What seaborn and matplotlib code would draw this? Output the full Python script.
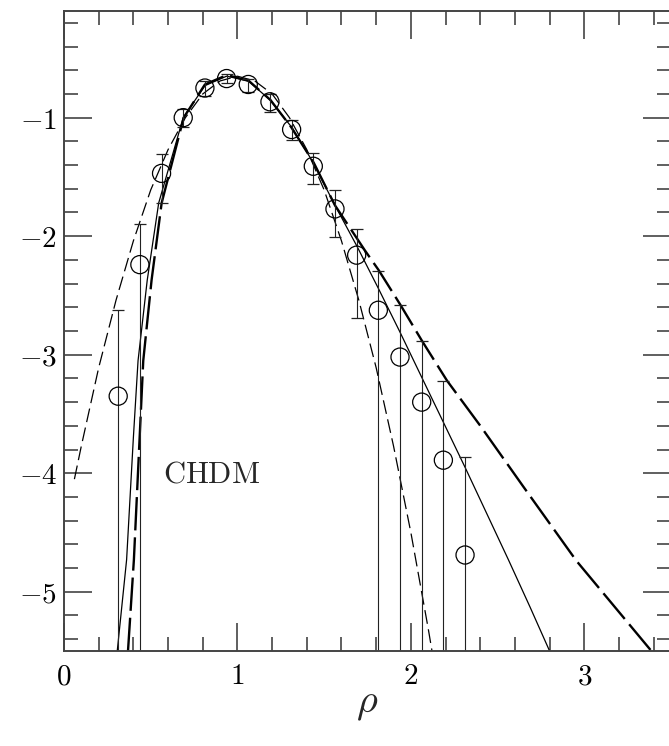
import numpy as np
import pandas as pd
import matplotlib
matplotlib.use("Agg")
import matplotlib.pyplot as plt
import seaborn as sns
from matplotlib.ticker import MultipleLocator

# ---- data ----
rho_pts = [0.3125, 0.4375, 0.5625, 0.6875, 0.8125, 0.9375, 1.0625, 1.1875, 1.3125,
           1.4375, 1.5625, 1.6875, 1.8125, 1.9375, 2.0625, 2.1875, 2.3125]
logp_pts = [-3.35, -2.24, -1.47, -1.00, -0.75, -0.67, -0.72, -0.866, -1.10,
            -1.41, -1.77, -2.16, -2.625, -3.02, -3.40, -3.89, -4.69]
err_hi = [-2.62, -1.90, -1.31, -0.93, -0.69, -0.63, -0.67, -0.80, -1.02,
          -1.30, -1.61, -1.94, -2.29, -2.58, -2.885, -3.22, -3.865]
err_lo = [-10.0, -10.0, -1.72, -1.08, -0.82, -0.71, -0.78, -0.95, -1.19,
          -1.56, -2.01, -2.69, -10.0, -10.0, -10.0, -10.0, -10.0]

# short-dashed curve
sd_x = [0.06, 0.1, 0.2, 0.3, 0.4, 0.5, 0.6, 0.7, 0.8, 0.9, 1.0, 1.1, 1.2, 1.3,
        1.4, 1.5, 1.6, 1.7, 1.8, 1.9, 2.0, 2.1, 2.13]
sd_y = [-4.05, -3.77, -3.11, -2.54, -2.04, -1.61, -1.27, -1.00, -0.80, -0.69, -0.65,
        -0.69, -0.80, -1.00, -1.27, -1.61, -2.04, -2.54, -3.11, -3.77, -4.50, -5.31, -5.57]

# thin solid curve
so_x = [0.307, 0.361, 0.40, 0.427, 0.48, 0.546, 0.6875, 0.8125, 0.9375, 1.0625,
        1.1875, 1.3125, 1.4375, 1.5625, 1.6875, 1.8125, 1.9375, 2.0625, 2.1875,
        2.3125, 2.4375, 2.5625, 2.6875, 2.80]
so_y = [-5.5, -4.73, -3.70, -3.05, -2.37, -1.72, -1.00, -0.73, -0.65, -0.69,
        -0.85, -1.08, -1.38, -1.74, -2.08, -2.44, -2.81, -3.19, -3.57,
        -3.95, -4.34, -4.73, -5.13, -5.50]

# long-dashed curve
ld_x = [0.369, 0.403, 0.457, 0.505, 0.563, 0.69, 0.8125, 0.94, 1.066, 1.19, 1.31,
        1.44, 1.5625, 1.735, 1.816, 1.94, 2.065, 2.209, 2.398, 2.647, 2.955, 3.387]
ld_y = [-5.5, -4.73, -3.05, -2.37, -1.72, -1.00, -0.72, -0.64, -0.69, -0.85, -1.08,
        -1.38, -1.74, -2.12, -2.29, -2.58, -2.885, -3.22, -3.595, -4.11, -4.74, -5.5]

x_ticks = [0, 1, 2, 3]
y_ticks = [-5, -4, -3, -2, -1]

# ---- styling ----
sns.set_theme(style="ticks")
plt.rcParams["font.family"] = ["DejaVu Serif"]
plt.rcParams["mathtext.fontset"] = "cm"
plt.rcParams["lines.scale_dashes"] = False

fig = plt.figure(figsize=(6.69, 7.46), dpi=100)
ax = fig.add_axes([64 / 669, 1 - 651 / 746, (671 - 64) / 669, (651 - 11) / 746])

pts = pd.DataFrame({"rho": rho_pts, "logp": logp_pts})
sd = pd.DataFrame({"rho": sd_x, "logp": sd_y})
so = pd.DataFrame({"rho": so_x, "logp": so_y})
ld = pd.DataFrame({"rho": ld_x, "logp": ld_y})

sns.lineplot(data=sd, x="rho", y="logp", ax=ax, color="black", lw=0.9,
             estimator=None, sort=False, dashes=False, linestyle=(0, (10, 4)))
sns.lineplot(data=so, x="rho", y="logp", ax=ax, color="black", lw=0.9,
             estimator=None, sort=False)
sns.lineplot(data=ld, x="rho", y="logp", ax=ax, color="black", lw=1.7,
             estimator=None, sort=False, linestyle=(0, (24, 5)))

yerr = [np.array(logp_pts) - np.array(err_lo), np.array(err_hi) - np.array(logp_pts)]
ax.errorbar(rho_pts, logp_pts, yerr=yerr, fmt="none", ecolor="#222222",
            elinewidth=0.8, capsize=4.3, capthick=0.9)
sns.scatterplot(data=pts, x="rho", y="logp", ax=ax, marker="o", s=170,
                facecolor="none", edgecolor="black", linewidth=0.9, zorder=5)

ax.set_xlim(0, 3.5)
ax.set_ylim(-5.5, -0.1)
ax.xaxis.set_major_locator(MultipleLocator(1))
ax.xaxis.set_minor_locator(MultipleLocator(0.2))
ax.yaxis.set_major_locator(MultipleLocator(1))
ax.yaxis.set_minor_locator(MultipleLocator(0.2))
ax.set_xticks(x_ticks)
ax.set_xticklabels([f"${v}$" for v in x_ticks])
ax.set_yticks(y_ticks)
ax.set_yticklabels([f"$-{abs(v)}$" for v in y_ticks])

spine_c = "#444444"
for s in ax.spines.values():
    s.set_color(spine_c)
    s.set_linewidth(1.4)
ax.tick_params(which="both", direction="in", top=True, right=True, color=spine_c,
               width=1.2, labelsize=21, labelcolor="black")
ax.tick_params(which="major", length=20)
ax.tick_params(which="minor", length=10)
ax.tick_params(axis="x", which="major", pad=8)
ax.tick_params(axis="y", which="major", pad=5)

ax.set_xlabel(r"$\rho$", fontsize=29, labelpad=-3)
ax.set_ylabel("")
ax.text(0.57, -4.08, r"$\mathrm{CHDM}$", fontsize=22, ha="left", va="baseline")

fig.savefig("out.png", dpi=100)
